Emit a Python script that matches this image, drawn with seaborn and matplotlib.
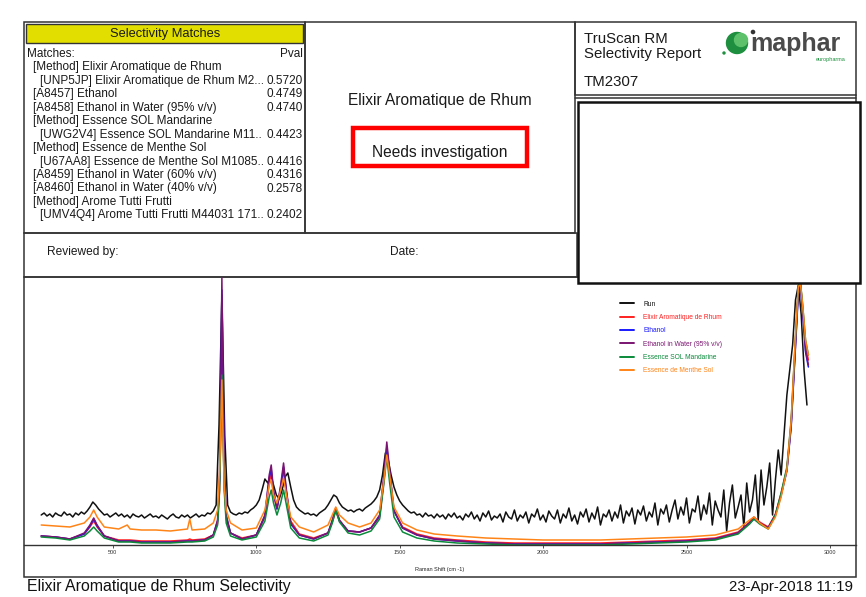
import numpy as np
import pandas as pd
import matplotlib
matplotlib.use("Agg")
import matplotlib.pyplot as plt
from matplotlib.patches import Rectangle, Circle
from matplotlib.lines import Line2D
import seaborn as sns

sns.set_theme(style="white")
plt.rcParams['font.family'] = ['Liberation Sans', 'DejaVu Sans']

# ---------------- data ----------------
series_names = ["Run", "Elixir Aromatique de Rhum", "Ethanol", "Ethanol in Water (95% v/v)",
                "Essence SOL Mandarine", "Essence de Menthe Sol"]
series_colors = ["#111111", "#ff2020", "#1a1aff", "#7a1470", "#0a8a3a", "#ff8418"]

run_x = list(range(250, 2921, 10))
run_y = [30, 32, 29, 31, 28, 32, 30, 29, 33, 30,
         31, 28, 32, 30, 33, 31, 34, 38, 43, 40,
         36, 33, 30, 31, 28, 30, 32, 29, 31, 28,
         30, 27, 31, 29, 28, 30, 27, 29, 31, 28,
         29, 27, 30, 28, 26, 29, 31, 28, 27, 30,
         28, 30, 27, 29, 31, 28, 30, 29, 32, 31,
         34, 40, 120, 250, 110, 40, 33, 31, 30, 32,
         31, 33, 32, 35, 37, 40, 45, 55, 66, 62,
         70, 60, 50, 46, 55, 68, 72, 58, 45, 38,
         35, 33, 31, 32, 30, 31, 29, 32, 34, 36,
         40, 45, 50, 48, 42, 38, 36, 34, 35, 33,
         35, 36, 34, 37, 39, 41, 44, 48, 55, 70,
         92, 85, 70, 58, 50, 44, 40, 37, 34, 32,
         33, 30, 31, 28, 32, 29, 30, 27, 31, 28,
         30, 26, 31, 28, 32, 27, 29, 25, 31, 28,
         33, 26, 30, 24, 32, 28, 34, 25, 29, 27,
         31, 23, 33, 28, 26, 35, 24, 30, 27, 33,
         22, 31, 28, 36, 25, 30, 23, 34, 29, 26,
         35, 22, 31, 27, 37, 24, 30, 21, 33, 28,
         36, 23, 32, 26, 38, 20, 31, 28, 35, 24,
         33, 27, 40, 22, 34, 29, 37, 21, 35, 30,
         39, 24, 33, 28, 42, 20, 36, 31, 40, 23,
         35, 45, 26, 38, 30, 47, 22, 36, 33, 49,
         25, 40, 31, 52, 20, 44, 35, 28, 55, 14,
         42, 60, 27, 38, 50, 18, 62, 33, 45, 70,
         25, 75, 40, 58, 82, 30, 65, 95, 70, 110,
         150, 175, 200, 245, 260, 230, 175, 140]

ref_x = [250, 300, 350, 400, 420, 433, 445, 470, 520, 550, 560, 600, 650, 700, 760, 768, 776, 820, 850, 865,
         872, 877, 880, 883, 888, 895, 910, 950, 1000, 1030,
         1045, 1052, 1060, 1072, 1085, 1095, 1105, 1120, 1150, 1200,
         1250, 1265, 1277, 1290, 1320, 1360, 1400, 1430, 1445, 1455,
         1465, 1480, 1510, 1560, 1620, 1700, 1800, 1900, 2000, 2100,
         2200, 2300, 2400, 2500, 2600, 2680, 2720, 2735, 2755, 2785,
         2810, 2830, 2850, 2865, 2880, 2890, 2897, 2905, 2915, 2925]

elixir_y = [9, 8, 6, 11, 18, 24, 18, 9, 5, 5, 5, 4, 4, 4, 5, 6, 5, 6, 10, 22,
            55, 130, 182, 135, 60, 26, 12, 7, 10, 28,
            62, 72, 50, 36, 55, 75, 52, 24, 11, 7,
            12, 23, 34, 24, 14, 13, 17, 28, 64, 95,
            70, 34, 18, 11, 7, 5, 3, 2, 2, 2,
            2, 3, 4, 5, 7, 13, 23, 28, 23, 18,
            31, 52, 76, 122, 205, 258, 263, 238, 200, 185]
ethanol_y = [9, 8, 6, 11, 19, 26, 19, 9, 4, 4, 4, 3, 3, 3, 4, 4, 4, 5, 10, 24,
             66, 172, 255, 182, 76, 29, 12, 6, 10, 29,
             67, 76, 53, 36, 58, 78, 53, 21, 10, 6,
             12, 24, 36, 24, 14, 13, 17, 29, 67, 98,
             72, 34, 17, 10, 6, 4, 2, 1, 1, 1,
             1, 2, 3, 4, 6, 12, 22, 26, 22, 17,
             30, 50, 74, 118, 198, 252, 260, 233, 193, 178]
water95_y = [9, 8, 6, 12, 20, 27, 20, 9, 4, 4, 4, 3, 3, 3, 4, 4, 4, 5, 10, 25,
             70, 180, 267, 190, 80, 30, 12, 6, 10, 30,
             70, 80, 55, 37, 60, 82, 55, 22, 10, 6,
             12, 25, 37, 25, 14, 13, 17, 30, 70, 103,
             75, 35, 17, 10, 6, 4, 2, 1, 1, 1,
             1, 2, 3, 4, 6, 12, 22, 27, 22, 17,
             30, 50, 75, 120, 200, 255, 262, 235, 195, 180]
mandarine_y = [8, 7, 5, 9, 14, 18, 14, 7, 3, 3, 3, 2, 2, 2, 3, 3, 3, 4, 8, 20,
               55, 125, 170, 128, 55, 22, 9, 5, 8, 24,
               48, 55, 42, 30, 42, 55, 40, 17, 7, 4,
               10, 22, 35, 23, 12, 10, 14, 26, 62, 88,
               62, 28, 13, 7, 4, 2, 1, 0, 0, 0,
               0, 1, 2, 3, 5, 11, 21, 26, 21, 16,
               30, 52, 78, 125, 208, 258, 264, 240, 205, 190]
menthe_y = [20, 19, 18, 22, 28, 35, 28, 18, 16, 20, 16, 15, 15, 14, 16, 26, 15, 16, 22, 35,
            75, 130, 165, 120, 60, 35, 22, 15, 17, 35,
            60, 65, 50, 42, 55, 67, 50, 28, 18, 13,
            20, 30, 38, 30, 22, 18, 22, 35, 65, 90,
            70, 38, 22, 15, 11, 9, 7, 6, 5, 5,
            5, 6, 7, 8, 10, 16, 25, 28, 22, 16,
            28, 48, 75, 125, 210, 258, 262, 240, 205, 190]

x_ticks = [500, 1000, 1500, 2000, 2500, 3000]

match_rows = [
    ("Matches:", 0, "Pval"),
    ("[Method] Elixir Aromatique de Rhum", 1, ""),
    ("[UNP5JP] Elixir Aromatique de Rhum M2...", 2, "0.5720"),
    ("[A8457] Ethanol", 1, "0.4749"),
    ("[A8458] Ethanol in Water (95% v/v)", 1, "0.4740"),
    ("[Method] Essence SOL Mandarine", 1, ""),
    ("[UWG2V4] Essence SOL Mandarine M11..", 2, "0.4423"),
    ("[Method] Essence de Menthe Sol", 1, ""),
    ("[U67AA8] Essence de Menthe Sol M1085..", 2, "0.4416"),
    ("[A8459] Ethanol in Water (60% v/v)", 1, "0.4316"),
    ("[A8460] Ethanol in Water (40% v/v)", 1, "0.2578"),
    ("[Method] Arome Tutti Frutti", 1, ""),
    ("[UMV4Q4] Arome Tutti Frutti M44031 171..", 2, "0.2402"),
]

# ---------------- long table ----------------
frames = [pd.DataFrame({"shift": run_x, "intensity": run_y, "series": "Run"})]
for name, vals in zip(series_names[1:], [elixir_y, ethanol_y, water95_y, mandarine_y, menthe_y]):
    frames.append(pd.DataFrame({"shift": ref_x, "intensity": vals, "series": name}))
df = pd.concat(frames, ignore_index=True)

# ---------------- figure ----------------
W, H = 866, 597
fig = plt.figure(figsize=(W / 100, H / 100), dpi=100)
fig.patch.set_facecolor("white")

page = fig.add_axes([0, 0, 1, 1], zorder=0)
page.set_xlim(0, W)
page.set_ylim(H, 0)
page.axis("off")

LC = "#333333"
LW = 1.1
TC = "#1a1a1a"


def box(ax, x0, y0, x1, y1, lw=LW, ec=LC, fc="none", z=1):
    ax.add_patch(Rectangle((x0, y0), x1 - x0, y1 - y0, fill=(fc != "none"),
                           facecolor=fc, edgecolor=ec, lw=lw, zorder=z))


# header boxes
box(page, 24, 22, 305, 233)
box(page, 305, 22, 575, 233)
box(page, 575, 22, 856, 95)
page.plot([575, 856], [97.5, 97.5], color=LC, lw=LW)
page.plot([856, 856], [95, 283], color=LC, lw=LW)
box(page, 24, 233, 577, 277)
box(page, 24, 277, 856, 577)

# selectivity matches
box(page, 26, 24, 303, 43, fc="#e2df00", lw=1.0)
page.text(165, 34, "Selectivity Matches", ha="center", va="center", fontsize=9.3, color=TC)
indent = {0: 27, 1: 33, 2: 40}
for i, (label, lev, pval) in enumerate(match_rows):
    y = 54 + 13.45 * i
    page.text(indent[lev], y, label, ha="left", va="center", fontsize=8.5, color=TC)
    if pval:
        page.text(303, y, pval, ha="right", va="center", fontsize=8.5, color=TC)

# middle
page.text(440, 101, "Elixir Aromatique de Rhum", ha="center", va="center", fontsize=11.2, color=TC)
box(page, 353, 128, 527, 166, lw=3.2, ec="#ff0000")
page.text(440, 153, "Needs investigation", ha="center", va="center", fontsize=11.2, color=TC)

# right header
page.text(584, 39, "TruScan RM", ha="left", va="center", fontsize=10.8, color=TC)
page.text(584, 54, "Selectivity Report", ha="left", va="center", fontsize=10.8, color=TC)
page.text(584, 82, "TM2307", ha="left", va="center", fontsize=10.8, color=TC)

# logo
page.add_patch(Circle((737, 43), 10.5, color="#1d8f3e", zorder=3))
page.add_patch(Circle((741, 40), 6.5, color="#5cc16a", zorder=3))
page.add_patch(Circle((753, 32), 1.6, color="#333333", zorder=3))
page.add_patch(Circle((724, 53), 1.0, color="#1d8f3e", zorder=3))
page.text(750, 44, "maphar", ha="left", va="center", fontsize=18, fontweight="bold",
          color="#4a4a4a", zorder=3)
page.text(846, 60, "europharma", ha="right", va="center", fontsize=4, color="#1d8f3e", zorder=3)

# reviewed row
page.text(47, 252, "Reviewed by:", ha="left", va="center", fontsize=8.6, color=TC)
page.text(390, 252, "Date:", ha="left", va="center", fontsize=8.6, color=TC)

# footer
page.text(27, 587, "Elixir Aromatique de Rhum Selectivity", ha="left", va="center", fontsize=11.4,
          color="#111111")
page.text(853, 587, "23-Apr-2018 11:19", ha="right", va="center", fontsize=10.8,
          color="#111111")

# ---------------- chart ----------------
ax = fig.add_axes([24 / W, 1 - 545 / H, (856 - 24) / W, (545 - 277) / H], zorder=1)
ax.patch.set_alpha(0)
sns.lineplot(data=df, x="shift", y="intensity", hue="series", hue_order=series_names,
             palette=dict(zip(series_names, series_colors)), sort=False, estimator=None,
             lw=1.1, legend=False, ax=ax)
ax.set_xlim(190, 3091)
ax.set_ylim(0, 268)
ax.set_yticks([])
ax.set_ylabel("")
ax.set_xticks(x_ticks)
ax.set_xticklabels([str(t) for t in x_ticks])
ax.tick_params(axis="x", direction="out", length=2, width=0.6, pad=1.5, labelsize=4,
               colors="#333333", bottom=True)
ax.set_xlabel("Raman Shift (cm -1)", fontsize=4, labelpad=9, color="#222222")
for s in ["top", "left", "right"]:
    ax.spines[s].set_visible(False)
ax.spines["bottom"].set_color("#333333")
ax.spines["bottom"].set_linewidth(1.0)
ax.grid(False)

handles = [Line2D([], [], color=c, lw=1.4) for c in series_colors]
leg = ax.legend(handles, series_names, loc="upper left", bbox_to_anchor=(617 / W, 1 - 298 / H),
                bbox_transform=fig.transFigure, frameon=False, fontsize=4.8, handlelength=2.1,
                handletextpad=1.4, labelspacing=0.95, borderaxespad=0)
for txt, c in zip(leg.get_texts(), series_colors):
    txt.set_color(c)

# ---------------- overlay white box ----------------
top = fig.add_axes([0, 0, 1, 1], zorder=3)
top.patch.set_alpha(0)
top.set_xlim(0, W)
top.set_ylim(H, 0)
top.axis("off")
box(top, 577.5, 101.5, 859.5, 283, lw=1.8, ec="#111111", fc="white")

fig.savefig("out.png", dpi=100)
